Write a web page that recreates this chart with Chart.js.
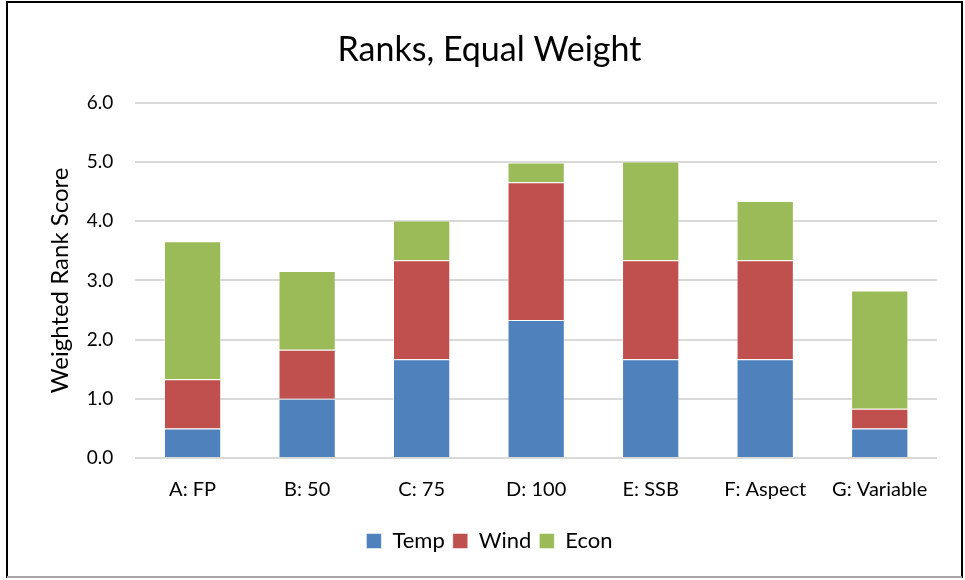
<!DOCTYPE html>
<html>
<head>
<meta charset="utf-8">
<script src="https://cdn.jsdelivr.net/npm/chart.js@4/dist/chart.umd.min.js"></script>
<style>
    body { margin: 0; background: #fff; }
    #wrap { width: 965px; height: 580px; position: relative; }
</style>
</head>
<body>
<div id="wrap"><canvas id="rankChart" width="965" height="580"></canvas></div>
<script>
// Chart data
const categories = ['A: FP', 'B: 50', 'C: 75', 'D: 100', 'E: SSB', 'F: Aspect', 'G: Variable'];
const tempValues = [0.5, 1.0, 1.67, 2.33, 1.67, 1.67, 0.5];
const windValues = [0.83, 0.83, 1.67, 2.33, 1.67, 1.67, 0.33];
const econValues = [2.33, 1.33, 0.67, 0.33, 1.67, 1.0, 2.0];
const yTicks = [0, 1, 2, 3, 4, 5, 6];

const fontFamily = 'Lato, "Open Sans", sans-serif';

// Frame around the chart, like the spreadsheet chart border
const framePlugin = {
    id: 'frame',
    afterDraw(chart) {
        const c = chart.ctx;
        c.save();
        c.lineWidth = 2;
        c.strokeStyle = '#000';
        c.beginPath();
        c.moveTo(7, 578);
        c.lineTo(7, 2);
        c.lineTo(962, 2);
        c.lineTo(962, 578);
        c.stroke();
        c.strokeStyle = '#a6a6a6';
        c.beginPath();
        c.moveTo(7, 577);
        c.lineTo(962, 577);
        c.stroke();
        c.restore();
    }
};

const ctx = document.getElementById('rankChart');
new Chart(ctx, {
    type: 'bar',
    data: {
        labels: categories,
        datasets: [
            { label: 'Temp', data: tempValues, backgroundColor: '#4f81bd', borderColor: 'rgba(255,255,255,0.5)', borderWidth: 1 },
            { label: 'Wind', data: windValues, backgroundColor: '#c0504d', borderColor: 'rgba(255,255,255,0.5)', borderWidth: 1 },
            { label: 'Econ', data: econValues, backgroundColor: '#9bbb59', borderColor: 'rgba(255,255,255,0.5)', borderWidth: 1 },
        ],
    },
    options: {
        responsive: false,
        animation: false,
        layout: { padding: { left: 42, right: 28, top: 18, bottom: 18 } },
        datasets: { bar: { categoryPercentage: 1.0, barPercentage: 0.5 } },
        scales: {
            x: {
                stacked: true,
                grid: { display: false, drawTicks: false },
                border: { display: false },
                ticks: { color: '#000', font: { family: fontFamily, size: 20 }, padding: 20 },
            },
            y: {
                stacked: true,
                min: 0,
                max: 6,
                afterBuildTicks: (axis) => { axis.ticks = yTicks.map(v => ({ value: v })); },
                grid: { color: '#d9d9d9', lineWidth: 2, drawTicks: false },
                border: { display: false },
                ticks: {
                    color: '#000',
                    font: { family: fontFamily, size: 19 },
                    padding: 22,
                    callback: (v) => Number(v).toFixed(1),
                },
                title: {
                    display: true,
                    text: 'Weighted Rank Score',
                    color: '#000',
                    font: { family: fontFamily, size: 24 },
                    padding: { top: 4, bottom: -10 },
                },
            },
        },
        plugins: {
            title: {
                display: true,
                text: 'Ranks, Equal Weight',
                color: '#000',
                font: { family: fontFamily, size: 34, weight: 'normal' },
                padding: { top: 12, bottom: 32 },
            },
            legend: {
                position: 'bottom',
                labels: {
                    color: '#000',
                    font: { family: fontFamily, size: 22 },
                    boxWidth: 15,
                    boxHeight: 15,
                    padding: 8,
                },
            },
            tooltip: { enabled: false },
        },
    },
    plugins: [framePlugin],
});
</script>
</body>
</html>
